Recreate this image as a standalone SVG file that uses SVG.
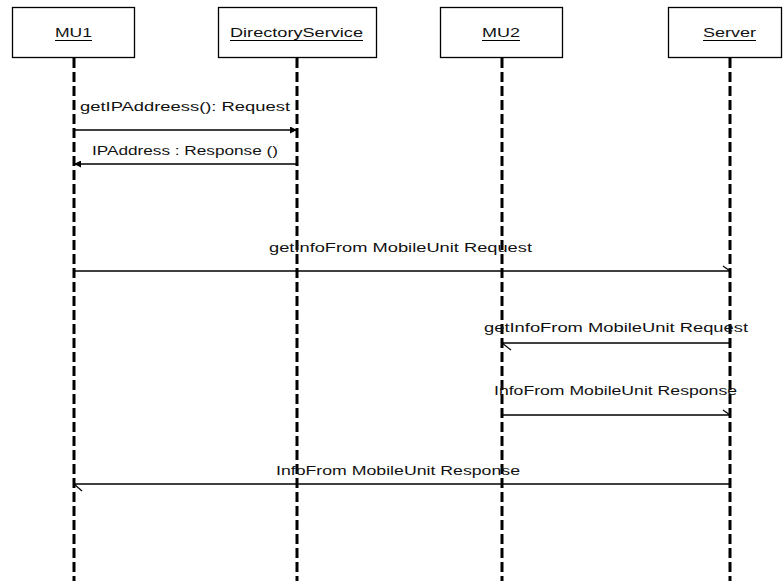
<svg xmlns="http://www.w3.org/2000/svg" width="783" height="581" viewBox="0 0 783 581">
<style>
.box{fill:#fff;stroke:#000;stroke-width:1.3}
.life{stroke:#000;stroke-width:3;stroke-dasharray:10 4;fill:none}
.msg{stroke:#000;stroke-width:1.3;fill:none}
.tick{stroke:#000;stroke-width:1.2;fill:none}
.lbl{font-family:"Liberation Sans",Arial,sans-serif;font-size:12px;fill:#111}
.ul{stroke:#000;stroke-width:1}
</style>
<defs>
<marker id="filled" viewBox="0 0 7 7" refX="7" refY="3.5" markerWidth="7" markerHeight="7" markerUnits="userSpaceOnUse" orient="auto">
<path d="M0,0 L7,3.5 L0,7 Z" fill="#000"/>
</marker>
</defs>
<rect width="783" height="581" fill="#fff"/>
<g id="lifelines">
<line class="life" x1="74" y1="58" x2="74" y2="581"/>
<line class="life" x1="297" y1="58" x2="297" y2="581"/>
<line class="life" x1="502" y1="58" x2="502" y2="581"/>
<line class="life" x1="730" y1="58" x2="730" y2="581"/>
</g>
<g id="MU1">
<rect class="box" x="12.5" y="7.5" width="122" height="50"/>
<text class="lbl" x="55" y="37" textLength="37" lengthAdjust="spacingAndGlyphs">MU1</text>
<line class="ul" x1="55" y1="40.5" x2="92" y2="40.5"/>
</g>
<g id="DirectoryService">
<rect class="box" x="218.5" y="7.5" width="158" height="50"/>
<text class="lbl" x="230" y="37" textLength="133" lengthAdjust="spacingAndGlyphs">DirectoryService</text>
<line class="ul" x1="230" y1="40.5" x2="363" y2="40.5"/>
</g>
<g id="MU2">
<rect class="box" x="440.5" y="7.5" width="122" height="50"/>
<text class="lbl" x="482" y="37" textLength="38" lengthAdjust="spacingAndGlyphs">MU2</text>
<line class="ul" x1="482" y1="40.5" x2="520" y2="40.5"/>
</g>
<g id="Server">
<rect class="box" x="668.5" y="7.5" width="113" height="50"/>
<text class="lbl" x="703" y="37" textLength="53" lengthAdjust="spacingAndGlyphs">Server</text>
<line class="ul" x1="703" y1="40.5" x2="756" y2="40.5"/>
</g>
<g id="connectors">
<line class="msg" x1="74" y1="130" x2="297" y2="130" marker-end="url(#filled)"/>
<line class="msg" x1="297" y1="164" x2="74" y2="164" marker-end="url(#filled)"/>
<line class="msg" x1="74" y1="271" x2="730" y2="271"/>
<line class="tick" x1="723" y1="266" x2="730" y2="271"/>
<line class="msg" x1="730" y1="343" x2="502" y2="343"/>
<line class="tick" x1="502" y1="343" x2="511" y2="350"/>
<line class="msg" x1="502" y1="415" x2="730" y2="415"/>
<line class="tick" x1="723" y1="410" x2="730" y2="415"/>
<line class="msg" x1="730" y1="484" x2="74" y2="484"/>
<line class="tick" x1="74" y1="484" x2="82" y2="491"/>
</g>
<g id="labels">
<text class="lbl" x="80" y="111" textLength="210" lengthAdjust="spacingAndGlyphs">getIPAddreess(): Request</text>
<text class="lbl" x="92" y="155" textLength="186" lengthAdjust="spacingAndGlyphs">IPAddress : Response ()</text>
<text class="lbl" x="269" y="252" textLength="263" lengthAdjust="spacingAndGlyphs">getInfoFrom MobileUnit Request</text>
<text class="lbl" x="484" y="332" textLength="264" lengthAdjust="spacingAndGlyphs">getInfoFrom MobileUnit Request</text>
<text class="lbl" x="494" y="395" textLength="243" lengthAdjust="spacingAndGlyphs">InfoFrom MobileUnit Response</text>
<text class="lbl" x="276" y="475" textLength="244" lengthAdjust="spacingAndGlyphs">InfoFrom MobileUnit Response</text>
</g>
</svg>
